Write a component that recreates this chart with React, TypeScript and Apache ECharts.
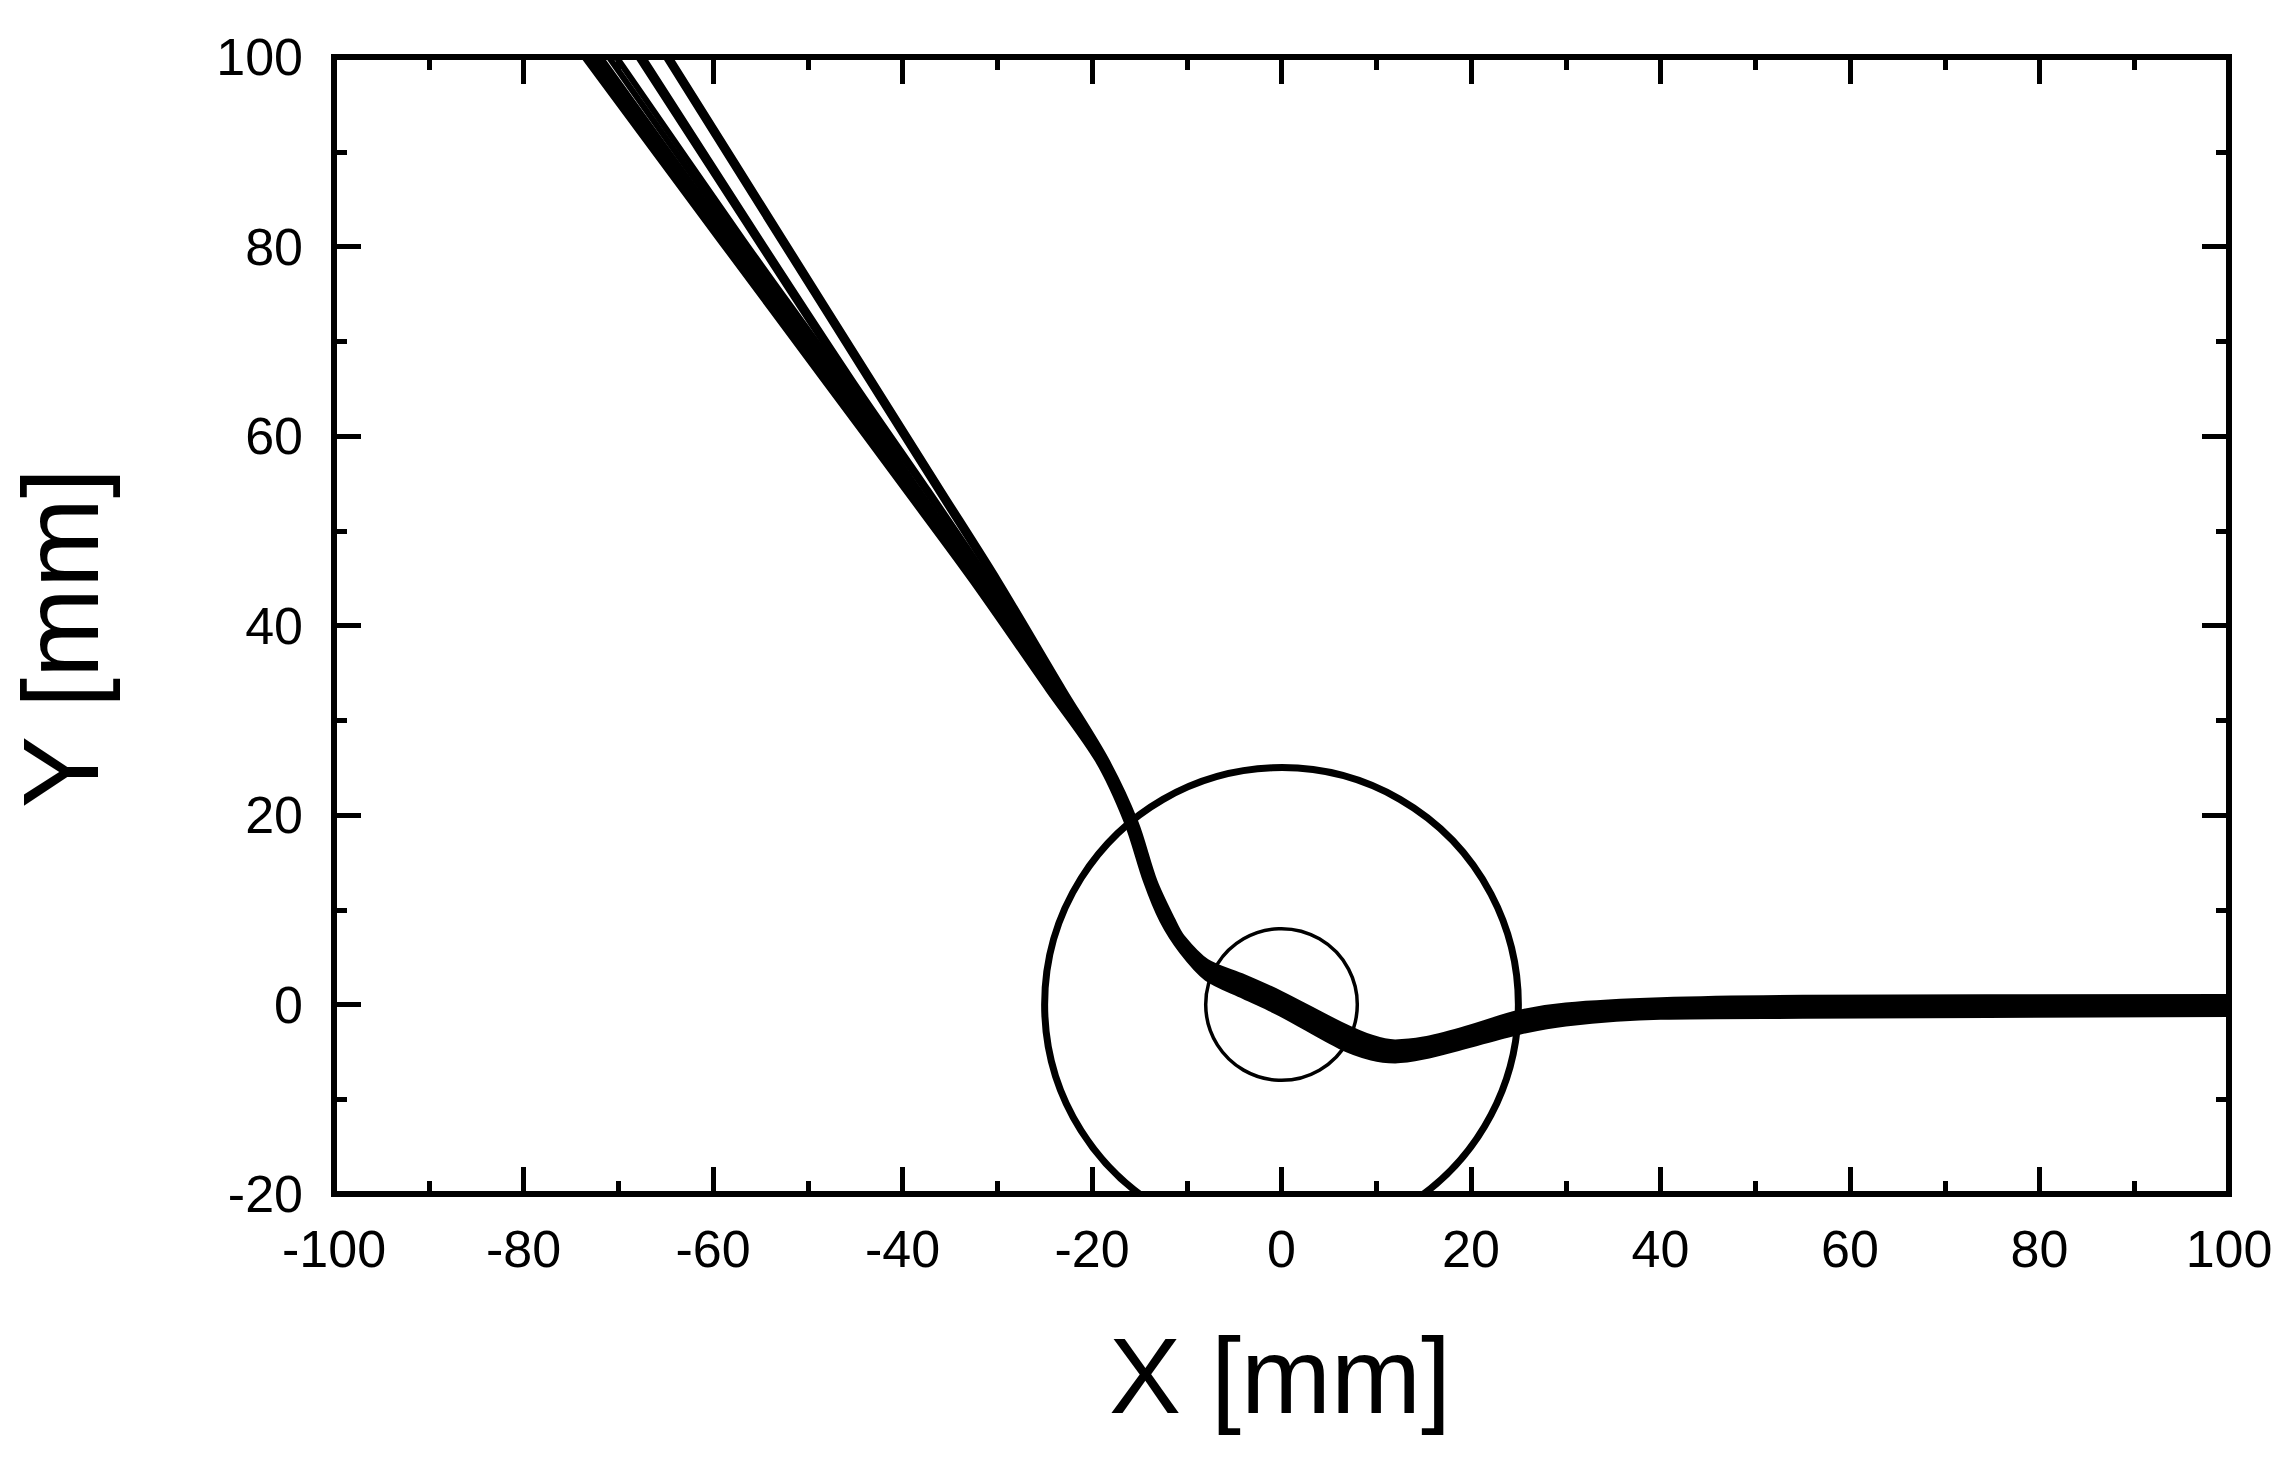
import React, { useEffect, useRef } from "react";
import * as echarts from "echarts";

// Axis ranges / ticks
const xRange = [-100, 100];
const yRange = [-20, 100];
const tickStep = 20;

// Titles
const xTitle = "X [mm]";
const yTitle = "Y [mm]";

// Circles centred on the origin: [cx, cy, radius] in mm
const circleOuter = [0, 0, 25];
const circleInner = [0, 0, 8];

// Upper part of each trajectory: x values (mm) read at these y levels
const upperYLevels = [100, 80.7, 65.9, 54.3, 44.8, 33.2, 25.8, 19.2, 13.0, 8.9];
const upperX_a1 = [-73.6, -59.3, -48.3, -39.7, -32.7, -24.6, -19.4, -16.3, -14.3, -12.6];
const upperX_a2 = [-73.1, -58.9, -48.0, -39.5, -32.5, -24.5, -19.3, -16.2, -14.2, -12.5];
const upperX_a3 = [-72.5, -58.5, -47.6, -39.2, -32.3, -24.4, -19.25, -16.1, -14.1, -12.4];
const upperX_a4 = [-71.9, -58.0, -47.2, -38.9, -32.1, -24.2, -19.15, -16.0, -14.0, -12.3];
const upperX_a5 = [-71.0, -57.4, -46.7, -38.6, -31.9, -24.05, -19.05, -15.9, -13.9, -12.15];
const upperX_a6 = [-70.2, -56.8, -46.2, -38.3, -31.7, -23.9, -19.0, -15.8, -13.8, -12.0];
const upperX_g1 = [-67.9, -55.4, -45.7, -37.6, -31.2, -23.7, -18.9, -15.7, -13.7, -11.9];
const upperX_g2 = [-67.4, -55.0, -45.3, -37.3, -30.9, -23.5, -18.8, -15.6, -13.6, -11.8];
const upperX_h1 = [-65.0, -52.9, -43.6, -36.3, -30.3, -23.2, -18.6, -15.5, -13.5, -11.65];
const upperX_h2 = [-64.6, -52.5, -43.2, -35.9, -29.9, -23.0, -18.5, -15.4, -13.4, -11.5];

// Lower part of each trajectory: y values (mm) read at these x levels
const lowerXLevels = [-10.5, -7.9, -4.0, 0, 6.2, 9.5, 12, 15, 19, 25, 30, 40, 55, 100];
const lowerY_a1 = [5.6, 2.8, 0.9, -1.0, -4.4, -5.6, -5.9, -5.5, -4.5, -2.9, -2.0, -1.3, -1.2, -1.0];
const lowerY_a2 = [5.75, 3.0, 1.12, -0.77, -4.14, -5.37, -5.7, -5.3, -4.3, -2.7, -1.8, -1.1, -1.0, -0.8];
const lowerY_a3 = [5.9, 3.2, 1.34, -0.53, -3.89, -5.13, -5.5, -5.1, -4.1, -2.5, -1.6, -0.9, -0.8, -0.6];
const lowerY_a4 = [6.05, 3.4, 1.57, -0.3, -3.63, -4.9, -5.3, -4.9, -3.9, -2.25, -1.4, -0.7, -0.55, -0.4];
const lowerY_a5 = [6.2, 3.6, 1.79, -0.07, -3.38, -4.67, -5.1, -4.7, -3.7, -2.0, -1.15, -0.5, -0.35, -0.2];
const lowerY_a6 = [6.35, 3.75, 2.01, 0.17, -3.12, -4.43, -4.9, -4.5, -3.5, -1.8, -0.95, -0.3, -0.15, 0.0];
const lowerY_g1 = [6.5, 3.9, 2.23, 0.4, -2.87, -4.2, -4.7, -4.3, -3.3, -1.6, -0.75, -0.1, 0.05, 0.2];
const lowerY_g2 = [6.65, 4.1, 2.46, 0.63, -2.61, -3.97, -4.5, -4.1, -3.1, -1.35, -0.5, 0.1, 0.25, 0.4];
const lowerY_h1 = [6.85, 4.3, 2.68, 0.87, -2.36, -3.73, -4.25, -3.9, -2.9, -1.1, -0.3, 0.3, 0.5, 0.6];
const lowerY_h2 = [7.1, 4.5, 2.9, 1.1, -2.1, -3.5, -4.0, -3.7, -2.7, -0.9, -0.1, 0.45, 0.7, 0.8];

const trajectories = [
  { name: "a1", upper: upperX_a1, lower: lowerY_a1 },
  { name: "a2", upper: upperX_a2, lower: lowerY_a2 },
  { name: "a3", upper: upperX_a3, lower: lowerY_a3 },
  { name: "a4", upper: upperX_a4, lower: lowerY_a4 },
  { name: "a5", upper: upperX_a5, lower: lowerY_a5 },
  { name: "a6", upper: upperX_a6, lower: lowerY_a6 },
  { name: "g1", upper: upperX_g1, lower: lowerY_g1 },
  { name: "g2", upper: upperX_g2, lower: lowerY_g2 },
  { name: "h1", upper: upperX_h1, lower: lowerY_h1 },
  { name: "h2", upper: upperX_h2, lower: lowerY_h2 },
];

const FONT = '"Liberation Sans", Arial, sans-serif';

export default function App() {
  const ref = useRef<HTMLDivElement>(null);

  useEffect(() => {
    if (!ref.current) return;
    const chart = echarts.init(ref.current, null, { renderer: "svg" });

    const lineSeries = trajectories.map((t) => {
      const data: number[][] = [];
      upperYLevels.forEach((y, i) => data.push([t.upper[i], y]));
      lowerXLevels.forEach((x, i) => data.push([x, t.lower[i]]));
      return {
        type: "line",
        name: t.name,
        data,
        xAxisIndex: 0,
        yAxisIndex: 0,
        showSymbol: false,
        symbol: "none",
        smooth: 0.3,
        clip: true,
        silent: true,
        lineStyle: { color: "#000", width: 6, join: "round", cap: "round" },
        z: 3,
      };
    });

    const circleWidths = [7, 3.5];
    const circleSeries = {
      type: "custom",
      xAxisIndex: 0,
      yAxisIndex: 0,
      clip: true,
      silent: true,
      data: [circleOuter, circleInner],
      renderItem: (params: any, api: any) => {
        const c = api.coord([api.value(0), api.value(1)]);
        const r = api.size([api.value(2), 0])[0];
        const cs = params.coordSys;
        return {
          type: "circle",
          shape: { cx: c[0], cy: c[1], r },
          style: { fill: "none", stroke: "#000", lineWidth: circleWidths[params.dataIndex] },
          clipPath: { type: "rect", shape: { x: cs.x, y: cs.y, width: cs.width, height: cs.height } },
        };
      },
      z: 2,
    };

    const axisLine = { show: true, onZero: false, lineStyle: { color: "#000", width: 6, cap: "square" } };
    const axisTick = { show: true, inside: true, length: 27, lineStyle: { color: "#000", width: 5 } };
    const minorTick = { show: true, splitNumber: 2, length: 13, lineStyle: { color: "#000", width: 5 } };
    const labelStyle = { color: "#000", fontSize: 52, fontFamily: FONT };

    const option: any = {
      animation: false,
      backgroundColor: "#fff",
      grid: { left: 334, right: 66, top: 57, bottom: 275, containLabel: false },
      xAxis: [
        {
          type: "value",
          position: "bottom",
          min: xRange[0],
          max: xRange[1],
          interval: tickStep,
          axisLine,
          axisTick,
          minorTick,
          splitLine: { show: false },
          minorSplitLine: { show: false },
          axisLabel: { ...labelStyle, margin: 29 },
        },
        {
          type: "value",
          position: "top",
          min: xRange[0],
          max: xRange[1],
          interval: tickStep,
          axisLine,
          axisTick,
          minorTick,
          splitLine: { show: false },
          axisLabel: { show: false },
        },
      ],
      yAxis: [
        {
          type: "value",
          position: "left",
          min: yRange[0],
          max: yRange[1],
          interval: tickStep,
          axisLine,
          axisTick,
          minorTick,
          splitLine: { show: false },
          minorSplitLine: { show: false },
          axisLabel: { ...labelStyle, margin: 31 },
        },
        {
          type: "value",
          position: "right",
          min: yRange[0],
          max: yRange[1],
          interval: tickStep,
          axisLine,
          axisTick,
          minorTick,
          splitLine: { show: false },
          axisLabel: { show: false },
        },
      ],
      graphic: [
        {
          type: "text",
          x: 1280,
          y: 1375,
          silent: true,
          style: {
            text: xTitle,
            fontSize: 108,
            fontFamily: FONT,
            fill: "#000",
            textAlign: "center",
            align: "center",
            textVerticalAlign: "middle",
            verticalAlign: "middle",
          },
        },
        {
          type: "text",
          x: 60,
          y: 638,
          rotation: Math.PI / 2,
          silent: true,
          style: {
            text: yTitle,
            fontSize: 108,
            fontFamily: FONT,
            fill: "#000",
            textAlign: "center",
            align: "center",
            textVerticalAlign: "middle",
            verticalAlign: "middle",
          },
        },
      ],
      series: [circleSeries, ...lineSeries],
    };

    chart.setOption(option);
    return () => chart.dispose();
  }, []);

  return (
    <div
      ref={ref}
      style={{ position: "absolute", left: 0, top: 0, width: 2295, height: 1469, background: "#fff" }}
    />
  );
}
